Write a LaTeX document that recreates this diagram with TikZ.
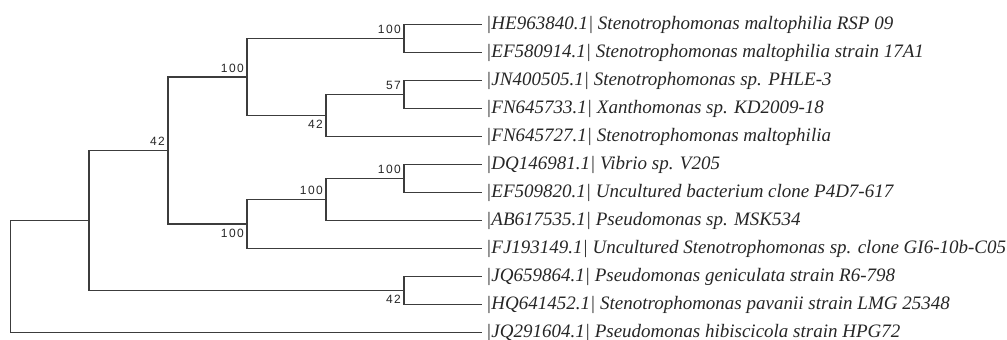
\documentclass[tikz,border=0pt]{standalone}
\usepackage{fontspec}
\setmainfont{Liberation Serif}
\newfontfamily\bootfont[LetterSpace=12]{Liberation Sans}
\usepackage{tikz}
\usetikzlibrary{positioning,calc}
\definecolor{branchgray}{HTML}{3C3C3C}
\definecolor{textgray}{HTML}{262626}

\begin{document}
\begin{tikzpicture}[
  x=1pt, y=-1pt,
  branch/.style={draw=branchgray, line width=1.2pt},
  leaf/.style={anchor=west, inner xsep=4pt, inner ysep=0pt, text=textgray, font=\fontsize{19}{20}\selectfont\itshape},
  boot/.style={inner xsep=3pt, inner ysep=4.5pt, text=textgray, font=\bootfont\fontsize{12}{12}\selectfont}
]
\useasboundingbox (0,0) rectangle (1007,340);

\node[leaf] (l1) at (482,24.5) {|HE963840.1| Stenotrophomonas maltophilia RSP 09};
\node[leaf] (l2) at (482,52.5) {|EF580914.1| Stenotrophomonas maltophilia strain 17A1};
\node[leaf] (l3) at (482,80.5) {|JN400505.1| Stenotrophomonas sp. PHLE-3};
\node[leaf] (l4) at (482,108.5) {|FN645733.1| Xanthomonas sp. KD2009-18};
\node[leaf] (l5) at (482,136.5) {|FN645727.1| Stenotrophomonas maltophilia};
\node[leaf] (l6) at (482,164.5) {|DQ146981.1| Vibrio sp. V205};
\node[leaf] (l7) at (482,192.5) {|EF509820.1| Uncultured bacterium clone P4D7-617};
\node[leaf] (l8) at (482,220.5) {|AB617535.1| Pseudomonas sp. MSK534};
\node[leaf] (l9) at (482,248.5) {|FJ193149.1| Uncultured Stenotrophomonas sp. clone GI6-10b-C05};
\node[leaf] (l10) at (482,276.5) {|JQ659864.1| Pseudomonas geniculata strain R6-798};
\node[leaf] (l11) at (482,304.5) {|HQ641452.1| Stenotrophomonas pavanii strain LMG 25348};
\node[leaf] (l12) at (482,332.5) {|JQ291604.1| Pseudomonas hibiscicola strain HPG72};

\coordinate (root) at (10.7,276.5);
\coordinate (nA) at (89,220.5);
\coordinate (nB) at (168,150.5);
\coordinate (nC) at (247,77);
\coordinate (nD) at (326,115.5);
\coordinate (nE) at (247,224);
\coordinate (nF) at (326,199.5);
\coordinate (nG) at (404,290.5);
\coordinate (nH) at (404,38.5);
\coordinate (nI) at (404,94.5);
\coordinate (nJ) at (404,178.5);

\draw[branch] (root) |- (nA);
\draw[branch] (root) |- (l12.west);
\draw[branch] (nA) |- (nB);
\draw[branch] (nA) |- (nG);
\draw[branch] (nB) |- (nC);
\draw[branch] (nB) |- (nE);
\draw[branch] (nC) |- (nH);
\draw[branch] (nC) |- (nD);
\draw[branch] (nD) |- (nI);
\draw[branch] (nD) |- (l5.west);
\draw[branch] (nH) |- (l1.west);
\draw[branch] (nH) |- (l2.west);
\draw[branch] (nI) |- (l3.west);
\draw[branch] (nI) |- (l4.west);
\draw[branch] (nE) |- (nF);
\draw[branch] (nE) |- (l9.west);
\draw[branch] (nF) |- (nJ);
\draw[branch] (nF) |- (l8.west);
\draw[branch] (nJ) |- (l6.west);
\draw[branch] (nJ) |- (l7.west);
\draw[branch] (nG) |- (l10.west);
\draw[branch] (nG) |- (l11.west);

\node[boot, anchor=south east] (bH) at (nH) {100};
\node[boot, anchor=south east] (bC) at (nC) {100};
\node[boot, anchor=south east] (bI) at (nI) {57};
\node[boot, anchor=north east] (bD) at (nD) {42};
\node[boot, anchor=south east] (bB) at (nB) {42};
\node[boot, anchor=south east] (bJ) at (nJ) {100};
\node[boot, anchor=south east] (bF) at (nF) {100};
\node[boot, anchor=north east] (bE) at (nE) {100};
\node[boot, anchor=north east] (bG) at (nG) {42};
\end{tikzpicture}
\end{document}
